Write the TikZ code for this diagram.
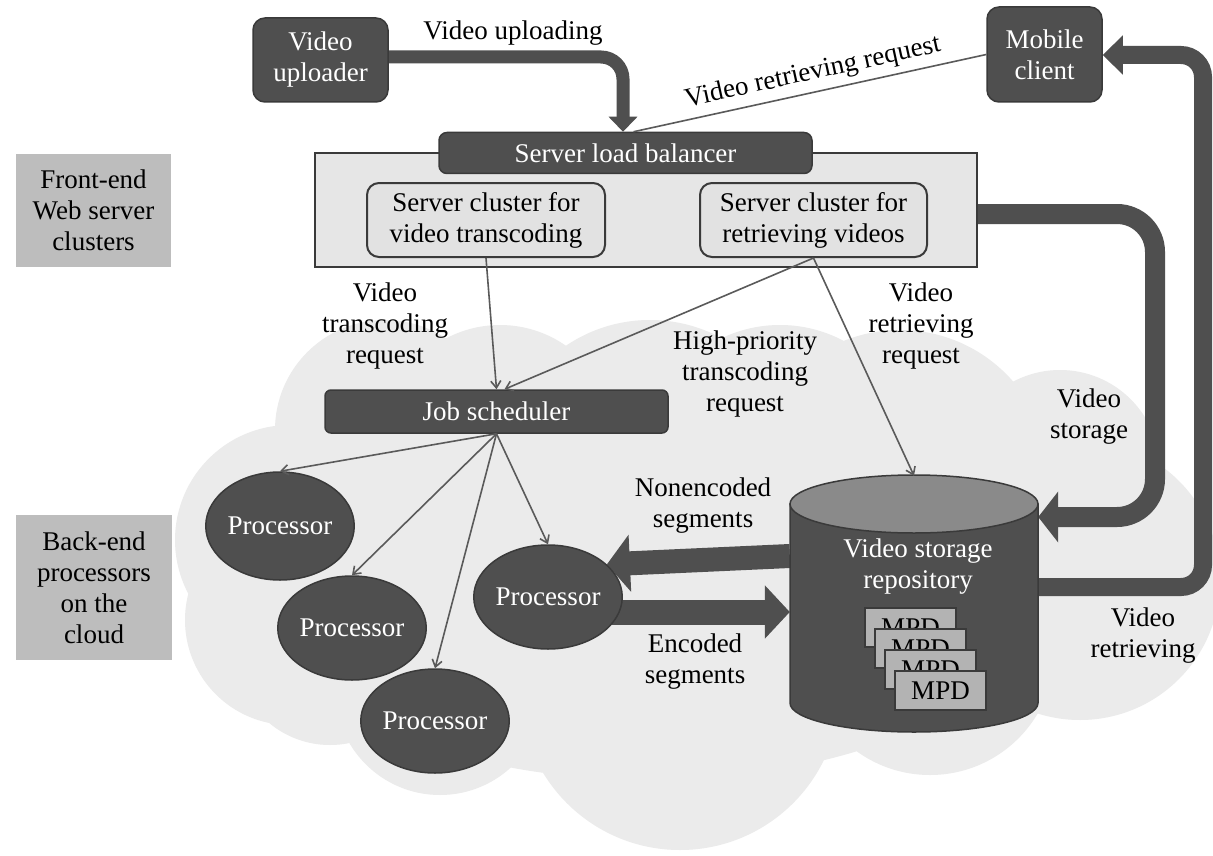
\documentclass[tikz,border=0pt]{standalone}
\usepackage{fontspec}
\setmainfont{Liberation Serif}
\usetikzlibrary{shapes.geometric,arrows.meta}
\definecolor{dk}{HTML}{4F4F4F}
\definecolor{dkline}{HTML}{3A3A3A}
\definecolor{cloudc}{HTML}{EBEBEB}
\definecolor{labc}{HTML}{BDBDBD}
\definecolor{panelc}{HTML}{E6E6E6}
\definecolor{clusterc}{HTML}{E2E2E2}
\definecolor{thinc}{HTML}{5A5A5A}
\definecolor{mpdc}{HTML}{B3B3B3}
\definecolor{cyltop}{HTML}{8A8A8A}
\pgfdeclarelayer{cloudlayer}
\pgfdeclarelayer{arrowlayer}
\pgfsetlayers{cloudlayer,arrowlayer,main}
\begin{document}
\begin{tikzpicture}[x=1pt,y=-1pt,
  txt/.style={font=\fontsize{27}{31}\selectfont, align=center, inner sep=0pt},
  darkbox/.style={txt, rounded corners=12pt, fill=dk, draw=dkline, line width=1.5pt, text=white},
  labelbox/.style={txt, fill=labc, text=black},
  clusterbox/.style={txt, rounded corners=12pt, fill=clusterc, draw=dkline, line width=2pt},
  proc/.style={txt, ellipse, fill=dk, draw=dkline, line width=1.5pt, text=white},
  mpdcard/.style={txt, fill=mpdc, draw=dkline, line width=1.2pt, minimum width=91pt, minimum height=39pt},
  bigarrow/.style={draw=dk},
  thinarrow/.style={draw=thinc, line width=1.6pt, -{Straight Barb[length=7pt,width=10pt]}},
]
\useasboundingbox (0,0) rectangle (1213,856);

\begin{pgfonlayer}{cloudlayer}
\fill[white] (0,0) rectangle (1213,856);
\fill[cloudc] (385,430) circle[radius=110pt] (500,440) circle[radius=115pt]
  (290,540) circle[radius=115pt] (290,620) circle[radius=105pt]
  (330,650) circle[radius=95pt] (440,690) circle[radius=105pt]
  (680,690) circle[radius=160pt] (930,650) circle[radius=125pt]
  (1080,580) circle[radius=140pt] (650,470) circle[radius=150pt]
  (780,460) circle[radius=135pt] (900,480) circle[radius=150pt]
  (1060,470) circle[radius=100pt]
  (650,580) ellipse[x radius=400pt, y radius=200pt];
\end{pgfonlayer}

% side labels
\node[labelbox, minimum width=155pt, minimum height=113pt] (flabel) at (93.5,210.5) {Front-end\\Web server\\clusters};
\node[labelbox, minimum width=156pt, minimum height=145pt] (blabel) at (94,587.5) {Back-end\\processors\\on the\\cloud};

% front-end
\node[draw=dkline, fill=panelc, line width=2pt, minimum width=662pt, minimum height=114pt] (front) at (646,210) {};
\node[darkbox, rounded corners=8pt, minimum width=373pt, minimum height=41pt] (lb) at (625.5,153) {Server load balancer};
\node[clusterbox, minimum width=238pt, minimum height=74pt] (tc) at (486,220) {Server cluster for\\video transcoding};
\node[clusterbox, minimum width=227pt, minimum height=74pt] (rc) at (813.5,220) {Server cluster for\\retrieving videos};

\node[darkbox, minimum width=135pt, minimum height=84pt] (up) at (320.5,60) {Video\\uploader};
\node[darkbox, minimum width=115pt, minimum height=95pt] (mc) at (1044.5,54.5) {Mobile\\client};

% back-end
\node[darkbox, rounded corners=6pt, minimum width=343pt, minimum height=43pt] (js) at (496.5,411.5) {Job scheduler};
\node[proc, minimum width=136pt, minimum height=108pt] (p1) at (280,526) {Processor};
\node[proc, minimum width=135pt, minimum height=104pt] (p2) at (352,628) {Processor};
\node[proc, minimum width=136pt, minimum height=104pt] (p3) at (435,721) {Processor};
\node[proc, minimum width=134pt, minimum height=104pt] (p4) at (548,597) {Processor};

% storage repository
\node[minimum width=248pt, minimum height=256pt, inner sep=0pt] (repo) at (914,604) {};
\filldraw[fill=dk, draw=dkline, line width=1.5pt] (790,504) -- (790,703)
  arc[start angle=180, end angle=360, x radius=124pt, y radius=29pt] -- (1038,504) -- cycle;
\filldraw[fill=cyltop, draw=dkline, line width=1.5pt] (914,504) ellipse[x radius=124pt, y radius=29pt];
\node[txt, text=white] (repotext) at (918,567) {Video storage\\repository};
\foreach \k in {0,1,2,3}
  \node[mpdcard] (mpd\k) at (910.5+10*\k,627.5+21*\k) {MPD};

% thick arrows
\begin{pgfonlayer}{arrowlayer}
\draw[bigarrow, line width=13pt, -{Triangle[width=28pt,length=15pt]}, rounded corners=22pt]
  ([yshift=3pt]up.east) -- (623,57) -- (lb.north -| 623,0);
\draw[bigarrow, line width=20pt, -{Triangle[width=50pt,length=20pt]}, rounded corners=38pt]
  (front.east |- 0,214) -- (1155,214) -- (1155,517) -- (repo.east |- 0,517);
\draw[bigarrow, line width=18pt, -{Triangle[width=38pt,length=20pt]}, rounded corners=22pt]
  (repo.east |- 0,587) -- (1203,587) -- (1203,55) -- (mc.east |- 0,55);
\draw[bigarrow, line width=24pt, -{Triangle[width=56pt,length=23pt]}]
  (repo.west |- 0,556) -- (p4.29);
\draw[bigarrow, line width=25pt, -{Triangle[width=52pt,length=25pt]}]
  (p4.center |- 0,612) -- (repo.west |- 0,612);
\end{pgfonlayer}

% thin connectors
\draw[draw=thinc, line width=1.6pt] (mc.west) -- ([xshift=8pt]lb.north)
  node[txt, pos=0.48, sloped, above=6pt] (lblvrr) {Video retrieving request};
\draw[thinarrow] (tc.south) -- (js.north);
\draw[thinarrow] (rc.south) -- ([xshift=8pt]js.north);
\draw[thinarrow] (rc.south) -- (repo.north);
\foreach \p in {p1,p2,p3,p4}
  \draw[thinarrow] (js.south) -- (\p.north);

% labels
\node[txt] (lblup) at (513,33) {Video uploading};
\node[txt] (lbltr) at (385,326) {Video\\transcoding\\request};
\node[txt] (lblhp) at (745,374) {High-priority\\transcoding\\request};
\node[txt] (lblvr) at (921,326) {Video\\retrieving\\request};
\node[txt] (lblvs) at (1089,417) {Video\\storage};
\node[txt] (lblne) at (703,506) {Nonencoded\\segments};
\node[txt] (lblen) at (695,662) {Encoded\\segments};
\node[txt] (lblret) at (1143,636) {Video\\retrieving};
\end{tikzpicture}
\end{document}
